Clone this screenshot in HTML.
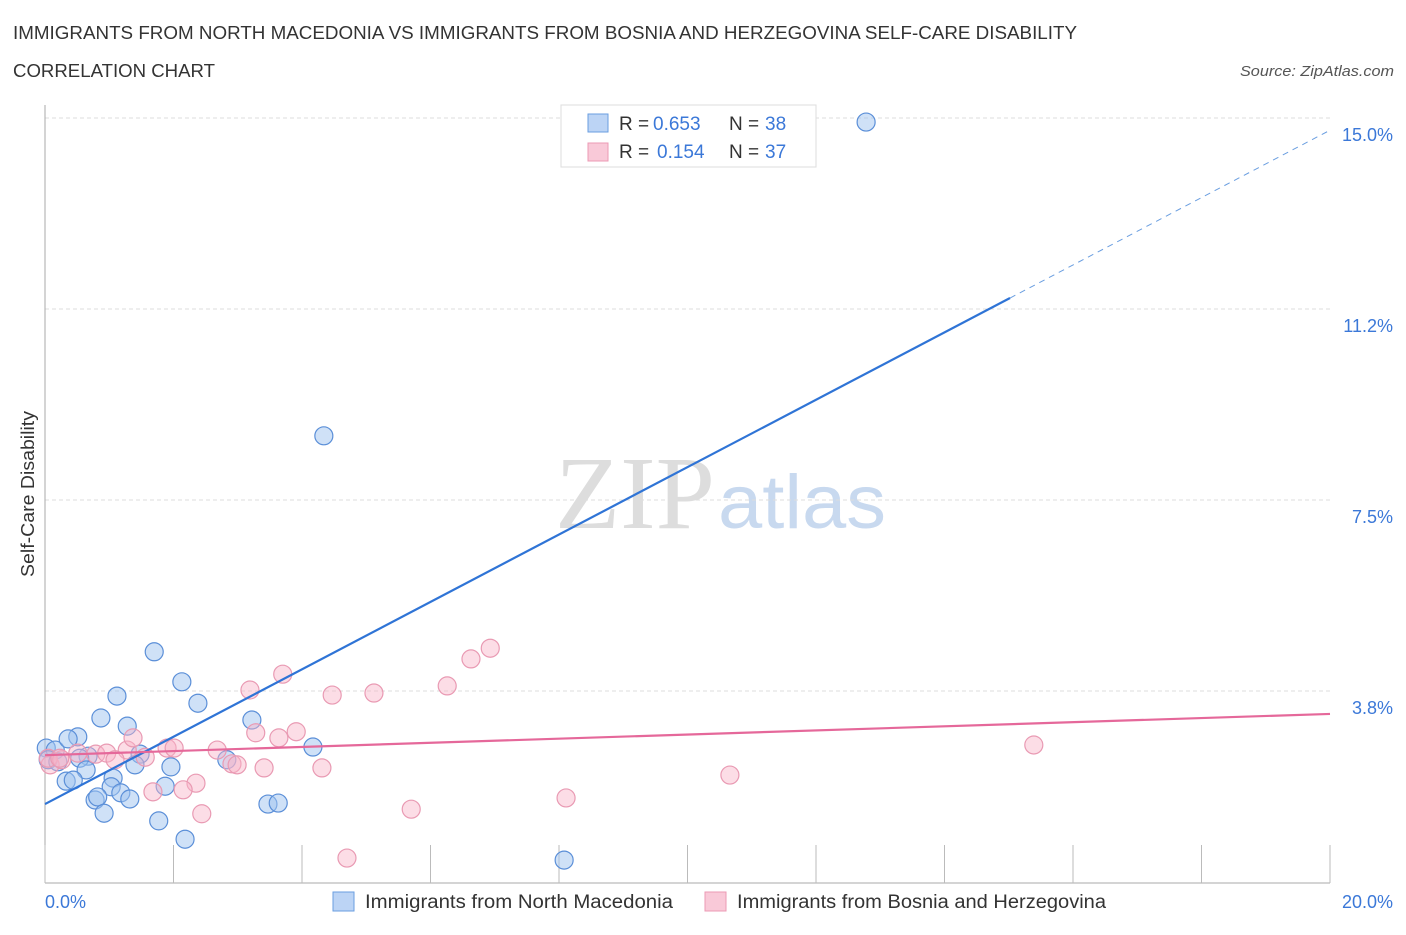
<!DOCTYPE html>
<html><head><meta charset="utf-8"><style>
body{margin:0;background:#fff;font-family:"Liberation Sans",sans-serif;}
</style></head><body>
<svg width="1406" height="930" xmlns="http://www.w3.org/2000/svg" style="font-family:'Liberation Sans',sans-serif">
<text x="13" y="39" font-size="18" fill="#333" textLength="1064" lengthAdjust="spacingAndGlyphs">IMMIGRANTS FROM NORTH MACEDONIA VS IMMIGRANTS FROM BOSNIA AND HERZEGOVINA SELF-CARE DISABILITY</text>
<text x="13" y="77" font-size="18" fill="#333" textLength="202" lengthAdjust="spacingAndGlyphs">CORRELATION CHART</text>
<text x="1394" y="76" font-size="15" fill="#555" font-style="italic" text-anchor="end" textLength="154" lengthAdjust="spacingAndGlyphs">Source: ZipAtlas.com</text>
<g>
<text x="635" y="528" font-size="104" font-family="'Liberation Serif',serif" fill="#ddd" text-anchor="middle" textLength="160" lengthAdjust="spacingAndGlyphs">ZIP</text>
<text x="802" y="528" font-size="76" fill="#c8d9ef" text-anchor="middle" textLength="168" lengthAdjust="spacingAndGlyphs">atlas</text>
</g>
<g id="grid"></g>
<g id="axes"></g>
<g id="pts"></g>
<g id="lines"></g>
<text x="34" y="494" font-size="18" fill="#333" text-anchor="middle" transform="rotate(-90 34 494)" textLength="166" lengthAdjust="spacingAndGlyphs">Self-Care Disability</text>
<g>
<rect x="561" y="105" width="255" height="62" fill="#fff" stroke="#ddd"/>
<rect x="588" y="114" width="20" height="18" fill="#bcd4f5" stroke="#6a9ee0"/>
<rect x="588" y="143" width="20" height="18" fill="#f9c9d8" stroke="#ec9ab4"/>
<text y="130" font-size="19" fill="#333"><tspan x="619">R =</tspan><tspan x="653" fill="#3b78d8">0.653</tspan><tspan x="729">N =</tspan><tspan x="765" fill="#3b78d8">38</tspan></text>
<text y="158" font-size="19" fill="#333"><tspan x="619">R =</tspan><tspan x="657" fill="#3b78d8">0.154</tspan><tspan x="729">N =</tspan><tspan x="765" fill="#3b78d8">37</tspan></text>
</g>
<g>
<rect x="333" y="892" width="21" height="19" fill="#bcd4f5" stroke="#6a9ee0"/>
<text x="365" y="908" font-size="19" fill="#333" textLength="308" lengthAdjust="spacingAndGlyphs">Immigrants from North Macedonia</text>
<rect x="705" y="892" width="21" height="19" fill="#f9c9d8" stroke="#ec9ab4"/>
<text x="737" y="908" font-size="19" fill="#333" textLength="369" lengthAdjust="spacingAndGlyphs">Immigrants from Bosnia and Herzegovina</text>
</g>
</svg>
<script>
const yTicks=[3.75,7.5,11.25,15];
const yTickLabels=["3.8%","7.5%","11.2%","15.0%"];
const xTicks=[0,2,4,6,8,10,12,14,16,18,20];
const blueX=[12.78,4.34,1.70,2.13,1.12,2.38,0.87,1.28,3.22,0.02,0.16,0.51,0.36,0.67,1.48,4.17,0.05,0.20,0.54,0.64,1.40,1.96,2.83,0.33,0.44,1.06,1.03,1.87,0.78,0.82,1.18,1.32,3.47,3.63,0.92,1.77,2.18,8.08];
const blueY=[14.92,8.76,4.52,3.93,3.65,3.51,3.22,3.06,3.18,2.63,2.59,2.85,2.81,2.47,2.51,2.65,2.40,2.36,2.43,2.20,2.30,2.26,2.40,1.98,2.00,2.04,1.87,1.88,1.61,1.67,1.75,1.63,1.53,1.55,1.35,1.20,0.84,0.43];
const pinkX=[0.08,0.05,0.26,0.51,0.79,0.96,1.28,1.37,1.56,1.90,2.01,2.68,2.91,2.99,3.28,3.19,3.70,3.64,3.91,3.41,4.47,5.12,4.31,2.35,2.15,1.68,2.44,4.70,5.70,6.26,6.63,6.93,8.11,10.66,15.39,0.23,1.09];
const pinkY=[2.30,2.43,2.40,2.53,2.51,2.53,2.59,2.83,2.45,2.63,2.63,2.59,2.32,2.30,2.93,3.77,4.08,2.83,2.95,2.24,3.67,3.71,2.24,1.94,1.81,1.77,1.34,0.47,1.43,3.85,4.38,4.59,1.65,2.10,2.69,2.43,2.40];
const blueTrend=[1.53,14.76];
const pinkTrend=[2.49,3.30];
const NS="http://www.w3.org/2000/svg";
const X=v=>45+v/20*1285, Y=v=>882-v/15*764;
function mk(tag,attrs,parent){const e=document.createElementNS(NS,tag);for(const k in attrs)e.setAttribute(k,attrs[k]);parent.appendChild(e);return e;}
const grid=document.getElementById('grid'),axes=document.getElementById('axes'),pts=document.getElementById('pts'),lines=document.getElementById('lines');
yTicks.forEach((t,i)=>{
 const l=mk('line',{x1:45,x2:1330,y1:Y(t),y2:Y(t),stroke:'#ddd','stroke-dasharray':'4 3'},grid);
 
 
 const tx=mk('text',{x:1393,y:Y(t)+23,'font-size':18,fill:'#3b78d8','text-anchor':'end'},axes);
 tx.textContent=yTickLabels[i];
 
 
});
mk('line',{x1:45,x2:45,y1:105,y2:883,stroke:'#aaa'},axes);
mk('line',{x1:45,x2:1330,y1:883,y2:883,stroke:'#aaa'},axes);
xTicks.forEach(t=>{
 const l=mk('line',{x1:X(t),x2:X(t),y1:845,y2:883,stroke:'#bbb'},axes);
 
 
});
const xl0=mk('text',{x:45,y:908,'font-size':18,fill:'#3b78d8'},axes);xl0.textContent='0.0%';


const xl1=mk('text',{x:1393,y:908,'font-size':18,fill:'#3b78d8','text-anchor':'end'},axes);xl1.textContent='20.0%';


blueX.forEach((x,i)=>{
 const c=mk('circle',{cx:X(x),cy:Y(blueY[i]),r:9,fill:'rgba(160,195,240,0.5)',stroke:'#5b8fd8','stroke-width':1.2},pts);
 
 
});
pinkX.forEach((x,i)=>{
 const c=mk('circle',{cx:X(x),cy:Y(pinkY[i]),r:9,fill:'rgba(248,180,200,0.45)',stroke:'#e99ab3','stroke-width':1.2},pts);
 
 
});
const bx=15.02, by=blueTrend[0]+(blueTrend[1]-blueTrend[0])*bx/20;
const b1=mk('line',{x1:X(0),y1:Y(blueTrend[0]),x2:X(bx),y2:Y(by),stroke:'#2f74d6','stroke-width':2.2},lines);


const b2=mk('line',{x1:X(bx),y1:Y(by),x2:X(20),y2:Y(blueTrend[1]),stroke:'#6a9ee0','stroke-width':1,'stroke-dasharray':'6 5'},lines);


const p1=mk('line',{x1:X(0),y1:Y(pinkTrend[0]),x2:X(20),y2:Y(pinkTrend[1]),stroke:'#e5689a','stroke-width':2.2},lines);


</script>
</body></html>
